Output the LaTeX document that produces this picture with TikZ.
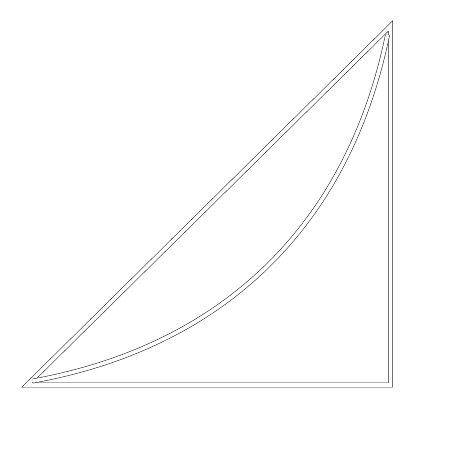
\documentclass[tikz,border=0pt]{standalone}
\usepackage{tikz}
\usetikzlibrary{calc}
\definecolor{qline}{HTML}{222222}

\begin{document}
\begin{tikzpicture}[
    x=1pt, y=1pt,
    dline/.style={draw=qline, line width=0.55pt, double=white, double distance=3.6pt, line join=miter},
    arcline/.style={dline, bend right=34}
]
    \useasboundingbox (0,0) rectangle (457,461);

    % Corners
    \coordinate (left) at (27,76);
    \coordinate (corner) at (390.5,76);
    \coordinate (top) at (390.5,435);

    % Arc ends
    \coordinate (arcstart) at (33,80);
    \coordinate (arcend) at (387.5,426);

    % Triangle
    \draw[dline] (left) -- (corner) -- (top) -- cycle;

    % Arc
    \draw[arcline] (arcstart) to (arcend);
\end{tikzpicture}
\end{document}
